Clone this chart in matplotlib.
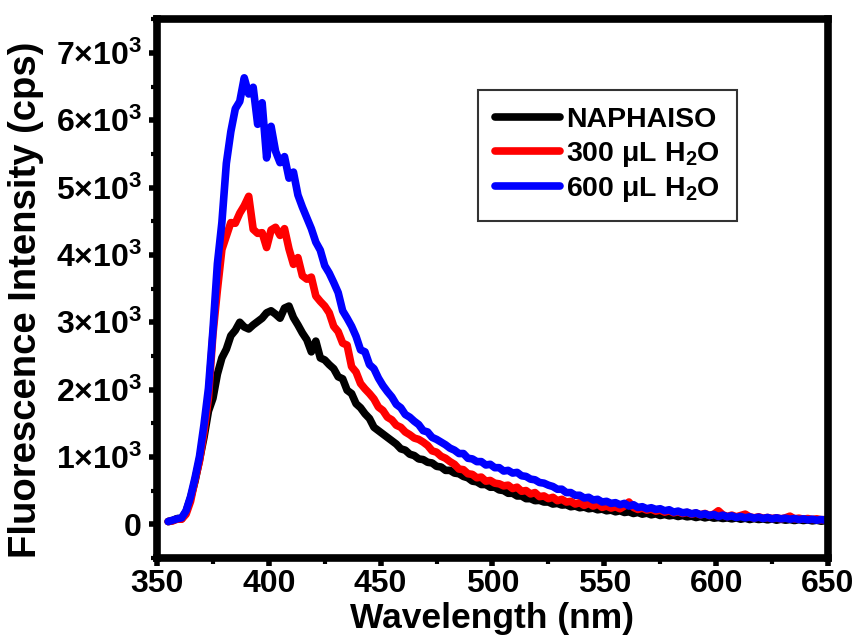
import numpy as np
import matplotlib
matplotlib.use("Agg")
import matplotlib.pyplot as plt
from matplotlib.ticker import MultipleLocator, FixedLocator, FixedFormatter

plt.rcParams['font.family'] = ['Liberation Sans', 'DejaVu Sans']
plt.rcParams['font.weight'] = 'bold'
plt.rcParams['mathtext.fontset'] = 'custom'
plt.rcParams['mathtext.rm'] = 'Liberation Sans:bold'
plt.rcParams['mathtext.bf'] = 'Liberation Sans:bold'
plt.rcParams['mathtext.it'] = 'Liberation Sans:bold:italic'
plt.rcParams['mathtext.default'] = 'rm'

# Emission wavelength (nm), 2 nm steps
wavelength = list(range(355, 651, 2))

naphaiso = [
    40, 55, 85, 80, 190, 390, 640, 960, 1290, 1680,
    1870, 2230, 2470, 2600, 2800, 2880, 3000, 2930, 2900, 2960,
    3010, 3060, 3140, 3170, 3120, 3060, 3210, 3240, 3070, 2960,
    2840, 2740, 2560, 2720, 2470, 2440, 2370, 2310, 2190, 2160,
    1990, 1940, 1790, 1730, 1640, 1570, 1440, 1390, 1340, 1290,
    1240, 1190, 1120, 1100, 1040, 1020, 970, 960, 920, 910,
    860, 850, 800, 800, 760, 750, 710, 690, 640, 630,
    590, 590, 550, 550, 510, 500, 460, 460, 420, 420,
    380, 380, 350, 355, 330, 330, 300, 310, 285, 290,
    260, 270, 245, 255, 230, 240, 215, 225, 200, 210,
    185, 200, 175, 185, 160, 175, 150, 165, 140, 155,
    130, 145, 125, 135, 115, 130, 110, 120, 100, 115,
    95, 110, 90, 100, 85, 95, 80, 95, 75, 90,
    70, 85, 70, 80, 65, 80, 60, 75, 60, 70,
    55, 70, 55, 65, 50, 60, 45, 55,
]

h2o_300 = [
    40, 50, 75, 75, 150, 340, 660, 940, 1370, 1880,
    2820, 3480, 4080, 4280, 4480, 4470, 4620, 4730, 4870, 4380,
    4320, 4330, 4110, 4370, 4410, 4290, 4390, 4090, 3860, 3960,
    3690, 3640, 3670, 3390, 3310, 3240, 3140, 2940, 2860, 2690,
    2660, 2340, 2260, 2090, 2010, 1940, 1860, 1740, 1690, 1590,
    1550, 1470, 1440, 1370, 1330, 1280, 1260, 1220, 1170, 1090,
    1070, 1010, 980, 930, 890, 820, 810, 750, 740, 690,
    700, 640, 650, 610, 600, 570, 580, 530, 550, 490,
    500, 450, 470, 410, 420, 380, 400, 350, 370, 330,
    340, 300, 320, 280, 310, 270, 300, 250, 270, 240,
    260, 230, 270, 330, 250, 220, 240, 210, 225, 195,
    210, 180, 200, 170, 185, 160, 175, 150, 165, 140,
    160, 130, 150, 200, 140, 115, 135, 110, 130, 150,
    110, 95, 110, 90, 100, 85, 95, 80, 95, 120,
    80, 90, 75, 85, 70, 80, 65, 70,
]

h2o_600 = [
    40, 60, 80, 95, 200, 410, 690, 1010, 1480, 2020,
    2880, 3870, 4480, 5360, 5830, 6170, 6280, 6630, 6390, 6490,
    5940, 6260, 5440, 5910, 5540, 5370, 5460, 5140, 5230, 4890,
    4710, 4550, 4390, 4190, 4070, 3840, 3730, 3590, 3440, 3170,
    3060, 2940, 2790, 2590, 2560, 2370, 2310, 2170, 2060, 1970,
    1890, 1780, 1730, 1630, 1590, 1530, 1480, 1390, 1370, 1290,
    1260, 1220, 1180, 1130, 1100, 1050, 1050, 980, 970, 930,
    930, 880, 890, 840, 840, 790, 800, 760, 770, 720,
    710, 670, 660, 620, 610, 580, 560, 520, 520, 470,
    470, 430, 430, 390, 400, 360, 370, 330, 340, 310,
    320, 290, 310, 270, 290, 250, 260, 230, 245, 220,
    230, 200, 215, 180, 195, 170, 180, 155, 170, 140,
    155, 130, 145, 115, 135, 110, 125, 100, 115, 95,
    110, 90, 105, 85, 100, 80, 95, 80, 90, 75,
    85, 70, 80, 65, 75, 60, 70, 60,
]

series_labels = ['NAPHAISO', '300 μL H$_2$O', '600 μL H$_2$O']
series_colors = ['#000000', '#ff0000', '#0000ff']

x_ticks = [350, 400, 450, 500, 550, 600, 650]
y_ticks = [0, 1000, 2000, 3000, 4000, 5000, 6000, 7000]
y_tick_labels = ['0', '1×10$^{3}$', '2×10$^{3}$', '3×10$^{3}$', '4×10$^{3}$',
                 '5×10$^{3}$', '6×10$^{3}$', '7×10$^{3}$']

fig = plt.figure(figsize=(8.58, 6.42), dpi=100)
ax = fig.add_axes([0.183, 0.131, 0.782, 0.839])

for data, label, color in zip([naphaiso, h2o_300, h2o_600], series_labels, series_colors):
    ax.plot(wavelength[:len(data)], data, color=color, lw=5.5, label=label,
            solid_joinstyle='round', solid_capstyle='round')

ax.set_xlim(350, 650)
ax.set_ylim(-500, 7500)

ax.xaxis.set_major_locator(FixedLocator(x_ticks))
ax.xaxis.set_minor_locator(MultipleLocator(25))
ax.yaxis.set_major_locator(FixedLocator(y_ticks))
ax.yaxis.set_major_formatter(FixedFormatter(y_tick_labels))
ax.yaxis.set_minor_locator(MultipleLocator(500))

for side in ax.spines.values():
    side.set_linewidth(5.5)

ax.tick_params(which='major', direction='out', length=6, width=4,
               labelsize=23)
ax.tick_params(axis='x', which='major', pad=2)
ax.tick_params(axis='y', which='major', pad=5)
ax.tick_params(which='minor', direction='out', length=4, width=3)
for lbl in ax.get_xticklabels() + ax.get_yticklabels():
    lbl.set_fontweight('bold')

ax.set_xlabel('Wavelength (nm)', fontsize=25.5, fontweight='bold', labelpad=2)
ax.set_ylabel('Fluorescence Intensity (cps)', fontsize=27.5, fontweight='bold')
ax.yaxis.set_label_coords(-0.168, 0.479)

leg = ax.legend(loc='upper left', bbox_to_anchor=(0.478, 0.868), fontsize=20.5,
                frameon=True, fancybox=False, edgecolor='black',
                handlelength=2.3, handletextpad=0.2, borderpad=0.6,
                labelspacing=0.22, borderaxespad=0)
leg.get_frame().set_linewidth(1.5)
for t in leg.get_texts():
    t.set_fontweight('bold')

fig.savefig('out.png', dpi=100)
